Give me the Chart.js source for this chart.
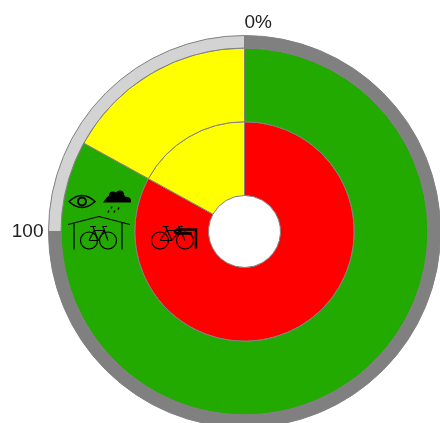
<!DOCTYPE html>
<html>
<head>
<meta charset="utf-8">
<style>html,body{margin:0;padding:0;background:#fff;overflow:hidden;width:440px;height:423px}canvas{display:block}</style>
<script src="https://cdn.jsdelivr.net/npm/chart.js@4/dist/chart.umd.min.js"></script>
</head>
<body>
<canvas id="c" width="450" height="440" style="width:450px;height:440px"></canvas>
<script>
const outerValues = [75, 25];
const middleValues = [83, 17];
const innerValues = [83, 17];
const outerColors = ['#808080', '#d3d3d3'];
const middleColors = ['#22aa00', '#ffff00'];
const innerColors = ['#ff0000', '#ffff00'];
const gaugeStart = '0%';
const gaugeEnd = '100';

function bike(ctx, x1, x2, y, r) {
  const s = (x2 - x1) / 19;
  ctx.lineWidth = 1.2;
  ctx.beginPath(); ctx.arc(x1, y, r, 0, 7); ctx.stroke();
  ctx.beginPath(); ctx.arc(x2, y, r, 0, 7); ctx.stroke();
  ctx.beginPath();
  const ax = x1 + 5 * s, bx = x2 - 4 * s, cx = x1 + 9 * s;
  ctx.moveTo(x1, y); ctx.lineTo(ax, y - 10); ctx.lineTo(bx, y - 10); ctx.lineTo(cx, y); ctx.lineTo(x1, y);
  ctx.moveTo(ax - 1, y - 14); ctx.lineTo(cx, y);
  ctx.moveTo(x2, y); ctx.lineTo(bx - 1, y - 14); ctx.lineTo(bx + 3, y - 14);
  ctx.moveTo(ax - 4, y - 14); ctx.lineTo(ax + 2, y - 14);
  ctx.stroke();
}

const overlay = {
  id: 'overlay',
  afterDraw(chart) {
    const ctx = chart.ctx;
    const arc = chart.getDatasetMeta(0).data[0];
    const cx = arc.x, cy = arc.y, R = arc.outerRadius;
    ctx.save();
    ctx.fillStyle = '#222';
    ctx.font = '19px "Liberation Sans", Arial, sans-serif';
    ctx.textBaseline = 'middle';
    ctx.textAlign = 'left';
    ctx.fillText(gaugeStart, cx, cy - R - 13);
    ctx.textAlign = 'right';
    ctx.fillText(gaugeEnd, cx - R - 5, cy);

    ctx.strokeStyle = '#000'; ctx.fillStyle = '#000';
    ctx.translate(cx - 244.5, cy - 231);
    // eye
    ctx.lineWidth = 1.5;
    ctx.beginPath();
    ctx.moveTo(69, 201); ctx.quadraticCurveTo(82, 189, 95, 201); ctx.quadraticCurveTo(82, 213, 69, 201); ctx.closePath(); ctx.stroke();
    ctx.beginPath(); ctx.arc(82, 201, 4, 0, 7); ctx.lineWidth = 2; ctx.stroke();
    // cloud
    ctx.beginPath();
    ctx.moveTo(103, 202); ctx.lineTo(131, 202);
    ctx.quadraticCurveTo(132, 196, 125, 196); ctx.arc(120, 194, 4, 0, Math.PI, true); ctx.arc(113, 195, 4, 0, Math.PI, true); ctx.quadraticCurveTo(106, 197, 103, 202);
    ctx.closePath(); ctx.fill();
    ctx.lineWidth = 1.4;
    ctx.beginPath();
    ctx.moveTo(108, 212); ctx.lineTo(109, 210); ctx.moveTo(114, 212); ctx.lineTo(115, 210); ctx.moveTo(118, 209); ctx.lineTo(119, 207); ctx.moveTo(111, 208); ctx.lineTo(112, 206);
    ctx.stroke();
    // shelter
    ctx.lineWidth = 1.2;
    ctx.beginPath();
    ctx.moveTo(68, 224); ctx.lineTo(99, 216); ctx.lineTo(130, 224);
    ctx.moveTo(74, 222); ctx.lineTo(74, 249); ctx.moveTo(122, 222); ctx.lineTo(122, 249);
    ctx.stroke();
    bike(ctx, 89, 108, 240, 8.5);
    // bike with rack
    bike(ctx, 160, 185, 240, 8.5);
    ctx.lineWidth = 2.5;
    ctx.beginPath();
    ctx.moveTo(196, 248); ctx.lineTo(196, 229); ctx.lineTo(177, 229); ctx.quadraticCurveTo(173, 231, 177, 233); ctx.lineTo(192, 233);
    ctx.stroke();
    ctx.restore();
  }
};

new Chart(document.getElementById('c'), {
  type: 'doughnut',
  data: {
    datasets: [
      { data: outerValues, backgroundColor: outerColors, borderColor: '#808080', borderWidth: 1, weight: 12.5 },
      { data: middleValues, backgroundColor: middleColors, borderColor: '#808080', borderWidth: 1, weight: 73.75 },
      { data: innerValues, backgroundColor: innerColors, borderColor: '#808080', borderWidth: 1, weight: 73.75 }
    ]
  },
  options: {
    responsive: false,
    animation: false,
    cutout: 36,
    layout: { padding: { left: 48, top: 35, right: 9, bottom: 12 } },
    plugins: { legend: { display: false }, tooltip: { enabled: false } }
  },
  plugins: [overlay]
});
</script>
</body>
</html>
